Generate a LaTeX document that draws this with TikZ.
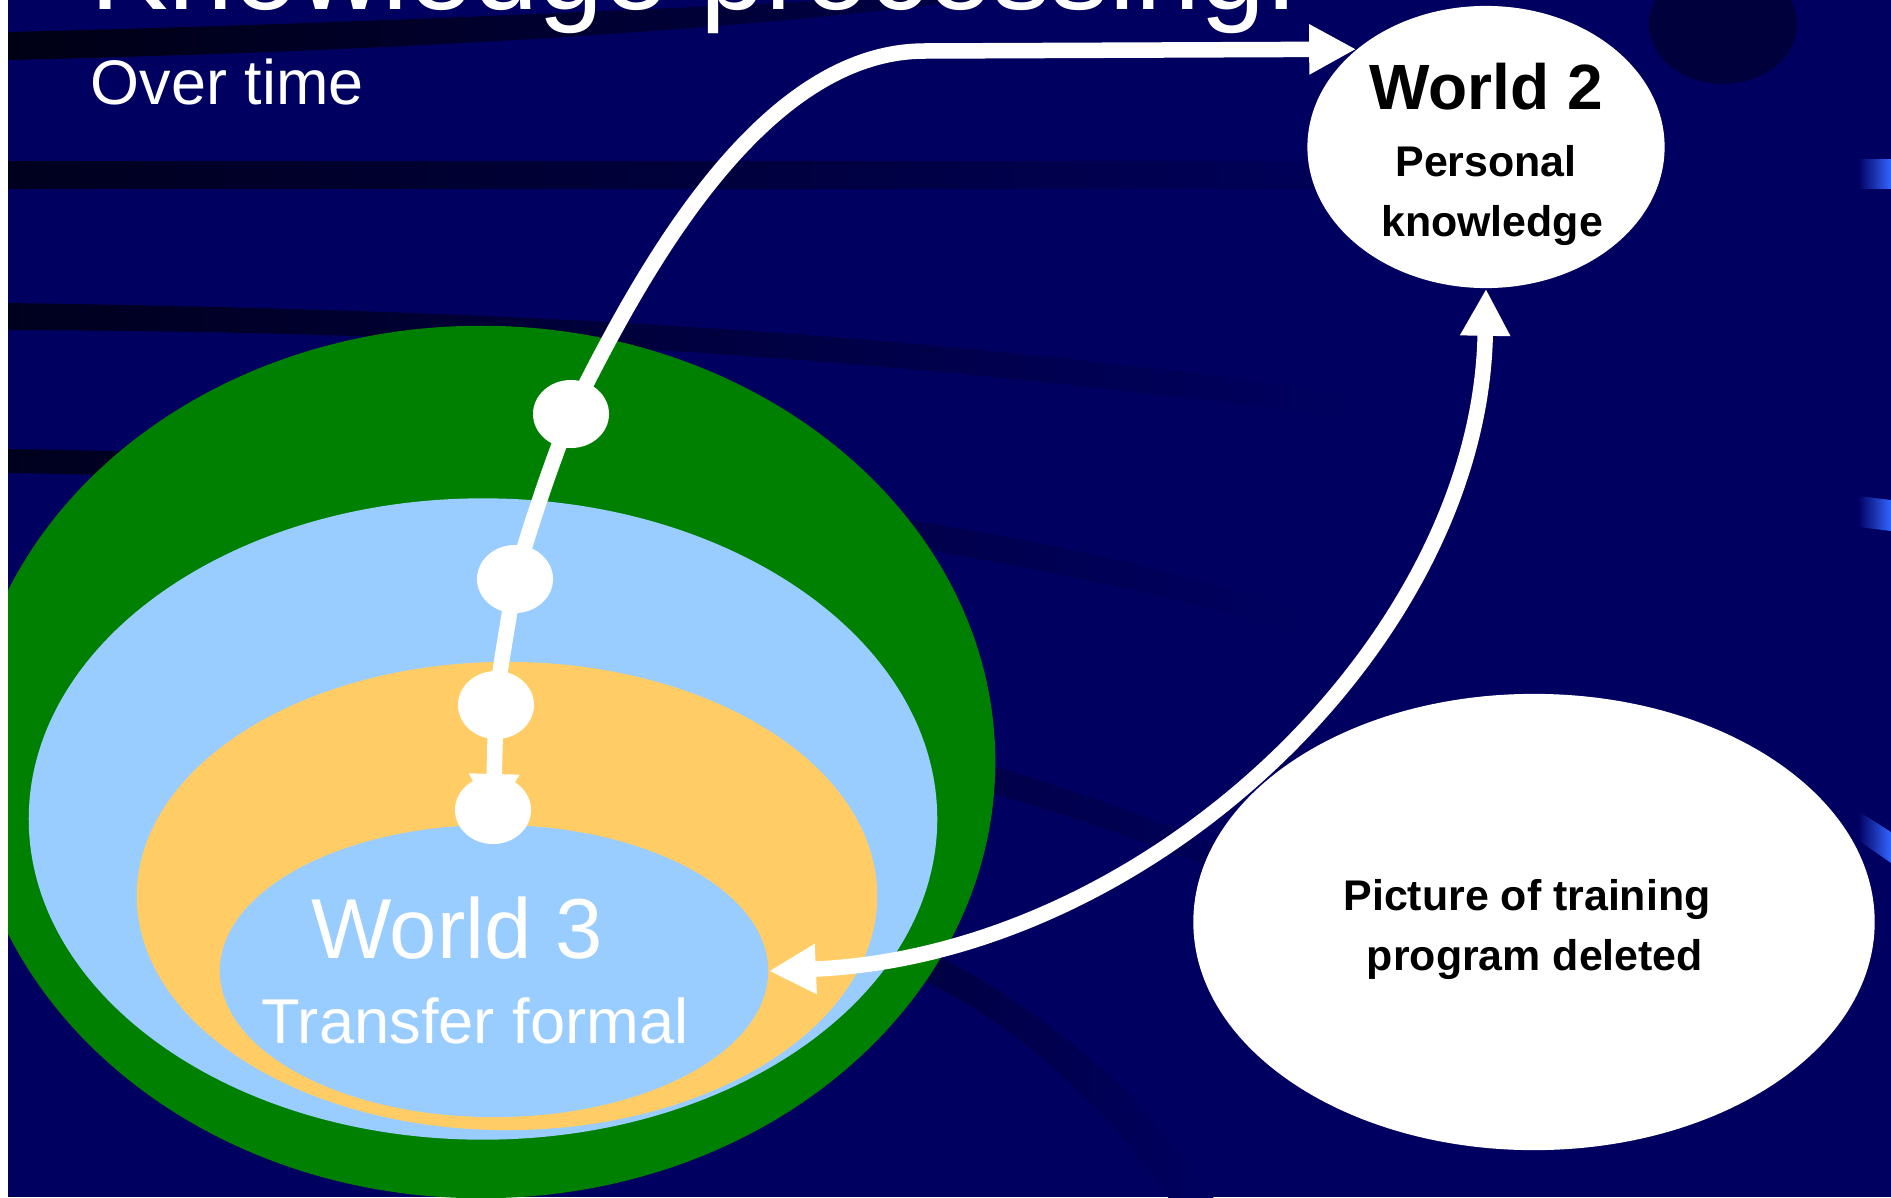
\documentclass[tikz,border=0pt]{standalone}
\usepackage{fontspec}
\setmainfont{Liberation Sans}
\usepackage{tikz}
\usetikzlibrary{calc, arrows.meta, shapes.geometric}

\definecolor{slidebg}{RGB}{0,0,96}
\definecolor{swoosh}{RGB}{0,0,30}
\definecolor{worldgreen}{RGB}{0,128,0}
\definecolor{worldblue}{RGB}{153,204,255}
\definecolor{worldgold}{RGB}{255,204,102}
\definecolor{barblue}{RGB}{51,102,255}

\begin{document}
\begin{tikzpicture}[x=0.01cm, y=-0.01cm,
    blob/.style={ellipse, inner sep=0pt, draw=none},
    dot/.style={blob, fill=white, minimum width=0.76cm, minimum height=0.68cm},
    link/.style={draw=white, line width=0.155cm},
    >={Triangle[length=0.47cm, width=0.47cm]},
    wlabel/.style={inner sep=0pt, text=white},
    blabel/.style={inner sep=0pt, text=black, font=\bfseries\fontsize{12.2pt}{14pt}\selectfont}]

	\useasboundingbox (0,0) rectangle (1891,1197);
	\clip (0,0) rectangle (1891,1197);
	\fill[slidebg] (0,0) rectangle (1891,1197);

	% background swooshes
	\shade[left color=swoosh!70!black, right color=swoosh!40!slidebg]
	  (8,32) .. controls (300,25) and (600,12) .. (880,-2) -- (990,-2)
	  .. controls (700,35) and (350,52) .. (8,60) -- cycle;
	\shade[left color=swoosh, right color=slidebg] (8,162) rectangle (1500,189);
	\shade[left color=swoosh, right color=slidebg]
	  (8,303) .. controls (500,310) and (900,330) .. (1360,395) -- (1360,420)
	  .. controls (900,358) and (500,332) .. (8,330) -- cycle;
	\shade[left color=swoosh, right color=slidebg]
	  (8,449) .. controls (500,455) and (1000,510) .. (1300,610) -- (1300,635)
	  .. controls (1000,540) and (500,480) .. (8,473) -- cycle;
	\shade[left color=swoosh!60!slidebg, right color=slidebg]
	  (700,700) .. controls (900,730) and (1100,790) .. (1350,900) -- (1350,925)
	  .. controls (1100,815) and (900,760) .. (700,730) -- cycle;
	\shade[left color=swoosh!55!slidebg, right color=slidebg]
	  (850,950) .. controls (1000,1000) and (1100,1100) .. (1170,1200) -- (1215,1200)
	  .. controls (1140,1090) and (1030,990) .. (870,925) -- cycle;
	\fill[swoosh!55!slidebg] (1723,24) ellipse [x radius=0.74cm, y radius=0.6cm];

	% blue bars at the edge
	\shade[left color=slidebg, right color=barblue] (1858,160) rectangle (1891,189);
	\shade[left color=slidebg, right color=barblue] (1858,496) -- (1891,500) -- (1891,531) -- (1858,527) -- cycle;
	\shade[left color=slidebg, right color=barblue] (1858,811) -- (1891,832) -- (1891,863) -- (1858,840) -- cycle;

	% titles
	\node[wlabel, anchor=base west, font=\fontsize{33.2pt}{40pt}\selectfont] (title) at (90,10) {Knowledge processing:};
	\node[wlabel, anchor=base west, font=\fontsize{17.9pt}{22pt}\selectfont] (subtitle) at (90,105) {Over time};

	% world 3 rings
	\node[blob, fill=worldgreen, minimum width=10.28cm, minimum height=8.72cm] (greenring) at (481,762) {};
	\node[blob, fill=worldblue, minimum width=9.08cm, minimum height=6.41cm] (bluering) at (483,819) {};
	\node[blob, fill=worldgold, minimum width=7.40cm, minimum height=4.68cm] (goldring) at (507,896) {};
	\node[blob, fill=worldblue, minimum width=5.48cm, minimum height=2.92cm] (w3) at (494,971) {};
	\node[wlabel, anchor=base, font=\fontsize{24.2pt}{28pt}\selectfont] (w3name) at (457,958) {World 3};
	\node[wlabel, anchor=base, font=\fontsize{18pt}{22pt}\selectfont] (w3sub) at (475,1043) {Transfer formal};

	% world 2 and picture
	\node[blob, fill=white, minimum width=3.57cm, minimum height=2.82cm] (w2) at (1486,147) {};
	\node[blabel, anchor=base, font=\bfseries\fontsize{18.2pt}{22pt}\selectfont] (w2name) at (1486,110) {World 2};
	\node[blabel, anchor=base] (w2sub1) at (1486,177) {Personal};
	\node[blabel, anchor=base] (w2sub2) at (1492,237) {knowledge};

	\node[blob, fill=white, minimum width=6.81cm, minimum height=4.56cm] (pic) at (1534,922) {};
	\node[blabel, anchor=base] (pictext1) at (1527,910) {Picture of training};
	\node[blabel, anchor=base] (pictext2) at (1535,970) {program deleted};

	% time steps
	\coordinate (t1) at (571,414);
	\coordinate (t2) at (515,579);
	\coordinate (t3) at (496,705);
	\coordinate (t4) at (493,810);
	\draw[link] (t1) .. controls (552,462) and (532,520) .. (t2);
	\draw[link] (t2) .. controls (508,625) and (500,665) .. (t3);
	\draw[link, ->] (t3) -- ($(t4)+(0,11)$);
	\draw[link, ->] (t1) .. controls (640,275) and (760,51) .. (925,51) -- (w2.143);
	\draw[link, <->] (w3.east) .. controls (1150,955) and (1480,640) .. (w2.south);

	\node[dot] (d1) at (t1) {};
	\node[dot] (d2) at (t2) {};
	\node[dot] (d3) at (t3) {};
	\node[dot] (d4) at (t4) {};

	\fill[white] (0,0) rectangle (8,1197);
\end{tikzpicture}
\end{document}
